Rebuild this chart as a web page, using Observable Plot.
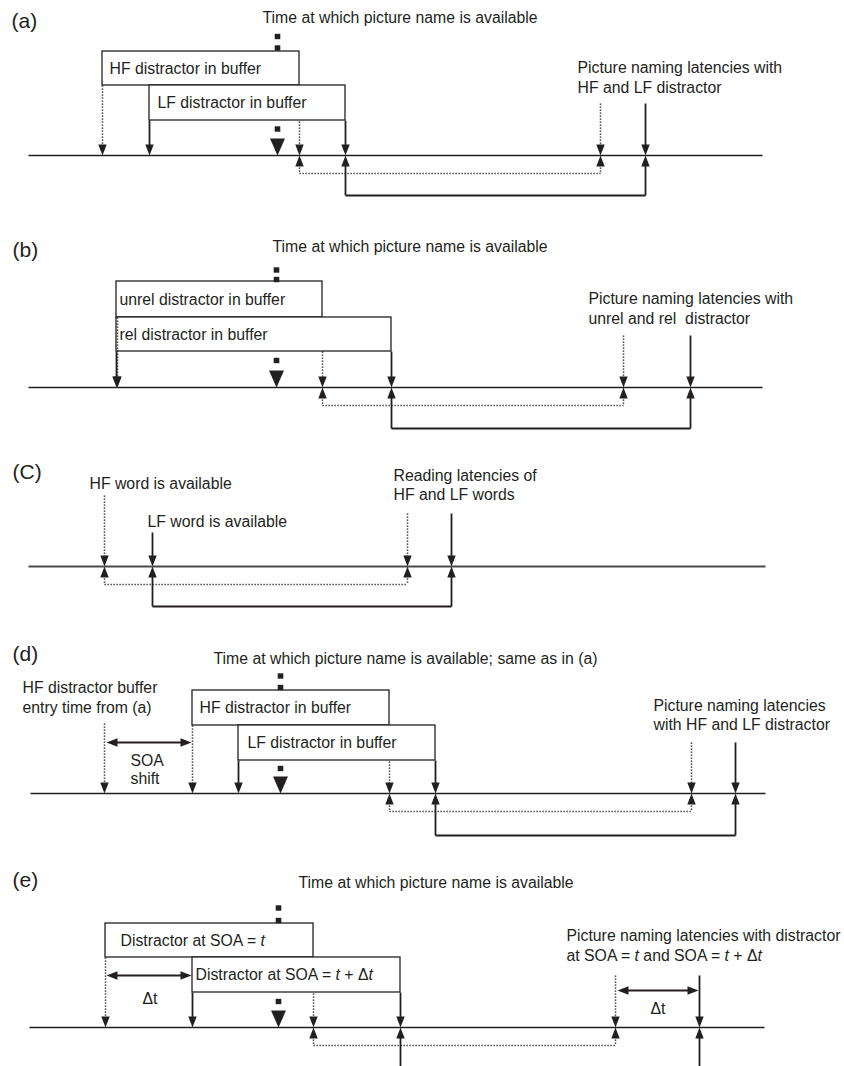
<!DOCTYPE html>
<html><head><meta charset="utf-8">
<script src="https://cdn.jsdelivr.net/npm/d3@7"></script>
<script src="https://cdn.jsdelivr.net/npm/@observablehq/plot@0.6"></script>
<style>html,body{margin:0;padding:0;background:#fff}</style>
</head><body><div id="chart"></div>
<script>
// ---------------- DATA (event times along each panel's time axis) ----------------
const panelLabels = ["(a)", "(b)", "(C)", "(d)", "(e)"];
const panelTitles = [
  "Time at which picture name is available",
  "Time at which picture name is available",
  "",
  "Time at which picture name is available; same as in (a)",
  "Time at which picture name is available"
];

// (a)
const aBufferLabels = ["HF distractor in buffer", "LF distractor in buffer"];
const aBufferEntry = [102, 149];
const aBufferExit = [299, 345];
const aPictureName = 277;
const aNamingLatency = [600, 645];
const aLatencyText = ["Picture naming latencies with", "HF and LF distractor"];

// (b)
const bBufferLabels = ["unrel distractor in buffer", "rel distractor in buffer"];
const bBufferEntry = [116, 116];
const bBufferExit = [322, 391];
const bPictureName = 276;
const bNamingLatency = [623, 690];
const bLatencyText = ["Picture naming latencies with", "unrel and rel\u00a0 distractor"];

// (c)
const cAvailableLabels = ["HF word is available", "LF word is available"];
const cAvailable = [104, 152];
const cReadingLatency = [407, 451];
const cLatencyText = ["Reading latencies of", "HF and LF words"];

// (d)
const dBufferLabels = ["HF distractor in buffer", "LF distractor in buffer"];
const dOriginalEntry = 104;
const dBufferEntry = [192, 238];
const dBufferExit = [389, 435];
const dPictureName = 280;
const dNamingLatency = [691, 735];
const dEntryText = ["HF distractor buffer", "entry time from (a)"];
const dShiftText = ["SOA", "shift"];
const dLatencyText = ["Picture naming latencies", "with HF and LF distractor"];

// (e)
const eBufferLabels = ["Distractor at SOA = *t*", "Distractor at SOA = *t* + \u0394*t*"];
const eBufferEntry = [105, 192];
const eBufferExit = [313, 400];
const ePictureName = 278;
const eNamingLatency = [615, 699];
const eDeltaText = "\u0394t";
const eLatencyText = ["Picture naming latencies with distractor", "at SOA = *t* and SOA = *t* + \u0394*t*"];

// ---------------- LAYOUT HELPERS ----------------
const W = 844, H = 1066;
const FONT = "'Liberation Sans', Arial, Helvetica, sans-serif";
const INK = "#231f20";
const FS = 15.8;

const rects = [], dotted = [], solid = [], heads = [], squares = [], labels = [], bigLabels = [], timelines = [];

function box(x1, x2, y1, y2, text, tx) { rects.push({x1, x2, y1, y2}); labels.push({x: tx, y: (y1 + y2) / 2, t: text}); }
function seg(style, x1, y1, x2, y2) { (style === "dot" ? dotted : solid).push({x1, y1, x2, y2}); }
function down(x, y1, y2, style) { seg(style, x, y1, x, y2 - 6); heads.push({x, y: y2, d: "down"}); }
function up(x, yLine, yEnd, style) { seg(style, x, yLine + 6, x, yEnd); heads.push({x, y: yLine, d: "up"}); }
function conn(xa, xb, yLine, yc, style) { up(xa, yLine, yc, style); up(xb, yLine, yc, style); seg(style, xa, yc, xb, yc); }
function marker(x, sq, sqLow, yLine) { sq.forEach(y => squares.push({x, y})); squares.push({x, y: sqLow}); heads.push({x, y: yLine, d: "big"}); }
function harrow(xa, xb, y) { seg("sol", xa + 6, y, xb - 6, y); heads.push({x: xa, y, d: "left"}, {x: xb, y, d: "right"}); }
function text(x, y, lines, lh = 20) { lines.forEach((t, i) => labels.push({x, y: y + i * lh, t})); }
function timeline(x1, x2, y, stroke = INK, w = 1.4) { timelines.push({x1, x2, y, stroke, w}); }

// ---- panel (a)
bigLabels.push({x: 11, y: 21, t: panelLabels[0]});
text(262, 17, [panelTitles[0]]);
timeline(28, 762, 155);
box(aBufferEntry[0], aBufferExit[0], 51, 85, aBufferLabels[0], aBufferEntry[0] + 7);
box(aBufferEntry[1], aBufferExit[1], 85, 120, aBufferLabels[1], aBufferEntry[1] + 8);
down(aBufferEntry[0], 85, 155, "dot");
down(aBufferEntry[1], 120, 155, "sol");
down(aBufferExit[0], 121, 155, "dot");
down(aBufferExit[1], 120, 155, "sol");
marker(aPictureName, [36, 47.5], 128.5, 155);
down(aNamingLatency[0], 103, 155, "dot");
down(aNamingLatency[1], 103, 155, "sol");
conn(aBufferExit[0], aNamingLatency[0], 155, 173, "dot");
conn(aBufferExit[1], aNamingLatency[1], 155, 195, "sol");
text(577, 67, aLatencyText);

// ---- panel (b)
bigLabels.push({x: 12, y: 250, t: panelLabels[1]});
text(272, 246, [panelTitles[1]]);
timeline(28, 762, 387);
box(bBufferEntry[0], bBufferExit[0], 281, 317, bBufferLabels[0], bBufferEntry[0] + 3);
box(bBufferEntry[1], bBufferExit[1], 317, 351, bBufferLabels[1], bBufferEntry[1] + 3);
down(bBufferEntry[0] + 1, 317, 387, "dot");
down(bBufferEntry[1], 351, 387, "sol");
down(bBufferExit[0], 351, 387, "dot");
down(bBufferExit[1], 351, 387, "sol");
marker(bPictureName, [269.5, 279], 360, 387);
down(bNamingLatency[0], 335, 387, "dot");
down(bNamingLatency[1], 335, 387, "sol");
conn(bBufferExit[0], bNamingLatency[0], 387, 405, "dot");
conn(bBufferExit[1], bNamingLatency[1], 387, 428, "sol");
text(588, 298, bLatencyText);

// ---- panel (c)
bigLabels.push({x: 12, y: 472, t: panelLabels[2]});
timeline(28, 765, 566, "#4a4a4a", 1.8);
text(89, 483, [cAvailableLabels[0]]);
text(147, 521, [cAvailableLabels[1]]);
down(cAvailable[0], 495, 566, "dot");
down(cAvailable[1], 532, 566, "sol");
down(cReadingLatency[0], 513, 566, "dot");
down(cReadingLatency[1], 513, 566, "sol");
conn(cAvailable[0], cReadingLatency[0], 566, 584, "dot");
conn(cAvailable[1], cReadingLatency[1], 566, 606, "sol");
text(393, 475, cLatencyText, 19);

// ---- panel (d)
bigLabels.push({x: 12, y: 654, t: panelLabels[3]});
text(213, 658, [panelTitles[3]]);
timeline(30, 765, 793);
box(dBufferEntry[0], dBufferExit[0], 690, 725, dBufferLabels[0], dBufferEntry[0] + 7);
box(dBufferEntry[1], dBufferExit[1], 725, 760, dBufferLabels[1], dBufferEntry[1] + 9);
text(22, 687, dEntryText);
down(dOriginalEntry, 723, 793, "dot");
harrow(dOriginalEntry + 2, dBufferEntry[0] - 1, 742);
text(130, 760, dShiftText, 18);
down(dBufferEntry[0], 725, 793, "dot");
down(dBufferEntry[1], 760, 793, "sol");
marker(dPictureName, [675.5, 687], 768, 793);
down(dBufferExit[0], 761, 793, "dot");
down(dBufferExit[1], 760, 793, "sol");
down(dNamingLatency[0], 742, 793, "dot");
down(dNamingLatency[1], 742, 793, "sol");
conn(dBufferExit[0], dNamingLatency[0], 793, 811, "dot");
conn(dBufferExit[1], dNamingLatency[1], 793, 835, "sol");
text(653, 705, dLatencyText, 19);

// ---- panel (e)
bigLabels.push({x: 12, y: 880, t: panelLabels[4]});
text(298, 882, [panelTitles[4]]);
timeline(29, 764, 1027);
box(eBufferEntry[0], eBufferExit[0], 923, 957, eBufferLabels[0], eBufferEntry[0] + 15);
box(eBufferEntry[1], eBufferExit[1], 957, 992, eBufferLabels[1], eBufferEntry[1] + 3);
down(eBufferEntry[0], 957, 1027, "dot");
harrow(eBufferEntry[0] + 1, eBufferEntry[1] - 1, 975);
text(142, 998, [eDeltaText]);
down(eBufferEntry[1], 992, 1027, "sol");
marker(ePictureName, [907.5, 920], 1001, 1027);
down(eBufferExit[0], 993, 1027, "dot");
down(eBufferExit[1], 992, 1027, "sol");
down(eNamingLatency[0], 975, 1027, "dot");
down(eNamingLatency[1], 975, 1027, "sol");
harrow(eNamingLatency[0] + 2, eNamingLatency[1] - 1, 990);
text(650, 1008, [eDeltaText]);
conn(eBufferExit[0], eNamingLatency[0], 1027, 1045, "dot");
up(eBufferExit[1], 1027, 1066, "sol");
up(eNamingLatency[1], 1027, 1066, "sol");
text(566, 935, eLatencyText);

// ---------------- SYMBOLS ----------------
const poly = pts => ({draw(ctx) { ctx.moveTo(pts[0][0], pts[0][1]); for (const p of pts.slice(1)) ctx.lineTo(p[0], p[1]); ctx.closePath(); }});
const SYM = {
  down: poly([[0, 0], [-4.2, -11], [4.2, -11]]),
  up: poly([[0, 0], [-4.2, 11], [4.2, 11]]),
  big: poly([[0, 0], [-7.5, -17], [7.5, -17]]),
  left: poly([[0, 0], [11, -4.2], [11, 4.2]]),
  right: poly([[0, 0], [-11, -4.2], [-11, 4.2]])
};
const SQUARE = poly([[-2.8, -2.7], [2.8, -2.7], [2.8, 2.7], [-2.8, 2.7]]);

const xy = {x1: "x1", x2: "x2", y1: "y1", y2: "y2"};
const chart = Plot.plot({
  width: W, height: H, margin: 0,
  style: {fontFamily: FONT, background: "white"},
  x: {type: "linear", domain: [0, W], range: [0, W], axis: null},
  y: {type: "linear", domain: [0, H], range: [0, H], axis: null},
  marks: [
    Plot.rect(rects, {...xy, fill: "white", stroke: INK, strokeWidth: 1.3}),
    Plot.link(dotted, {...xy, stroke: INK, strokeWidth: 1.5, strokeDasharray: "1.2,1.8"}),
    Plot.link(solid, {...xy, stroke: INK, strokeWidth: 1.8}),
    Plot.link(timelines, {x1: "x1", x2: "x2", y1: "y", y2: "y", stroke: d => d.stroke, strokeWidth: d => d.w}),
    ...Object.keys(SYM).map(k => Plot.dot(heads.filter(h => h.d === k), {x: "x", y: "y", symbol: SYM[k], fill: INK, stroke: "none"})),
    Plot.dot(squares, {x: "x", y: "y", symbol: SQUARE, fill: INK, stroke: "none"}),
    Plot.text(labels, {x: "x", y: "y", text: "t", textAnchor: "start", fontSize: FS, fill: INK, fontFamily: FONT}),
    Plot.text(bigLabels, {x: "x", y: "y", text: "t", textAnchor: "start", fontSize: 21, fill: INK, fontFamily: FONT})
  ]
});

// italic segments marked with *...*
chart.querySelectorAll("text").forEach(el => {
  const s = el.textContent;
  if (!s.includes("*")) return;
  el.textContent = "";
  s.split("*").forEach((part, i) => {
    const ts = document.createElementNS("http://www.w3.org/2000/svg", "tspan");
    ts.textContent = part;
    if (i % 2 === 1) ts.setAttribute("font-style", "italic");
    el.appendChild(ts);
  });
});
document.getElementById("chart").appendChild(chart);
</script>
</body></html>
